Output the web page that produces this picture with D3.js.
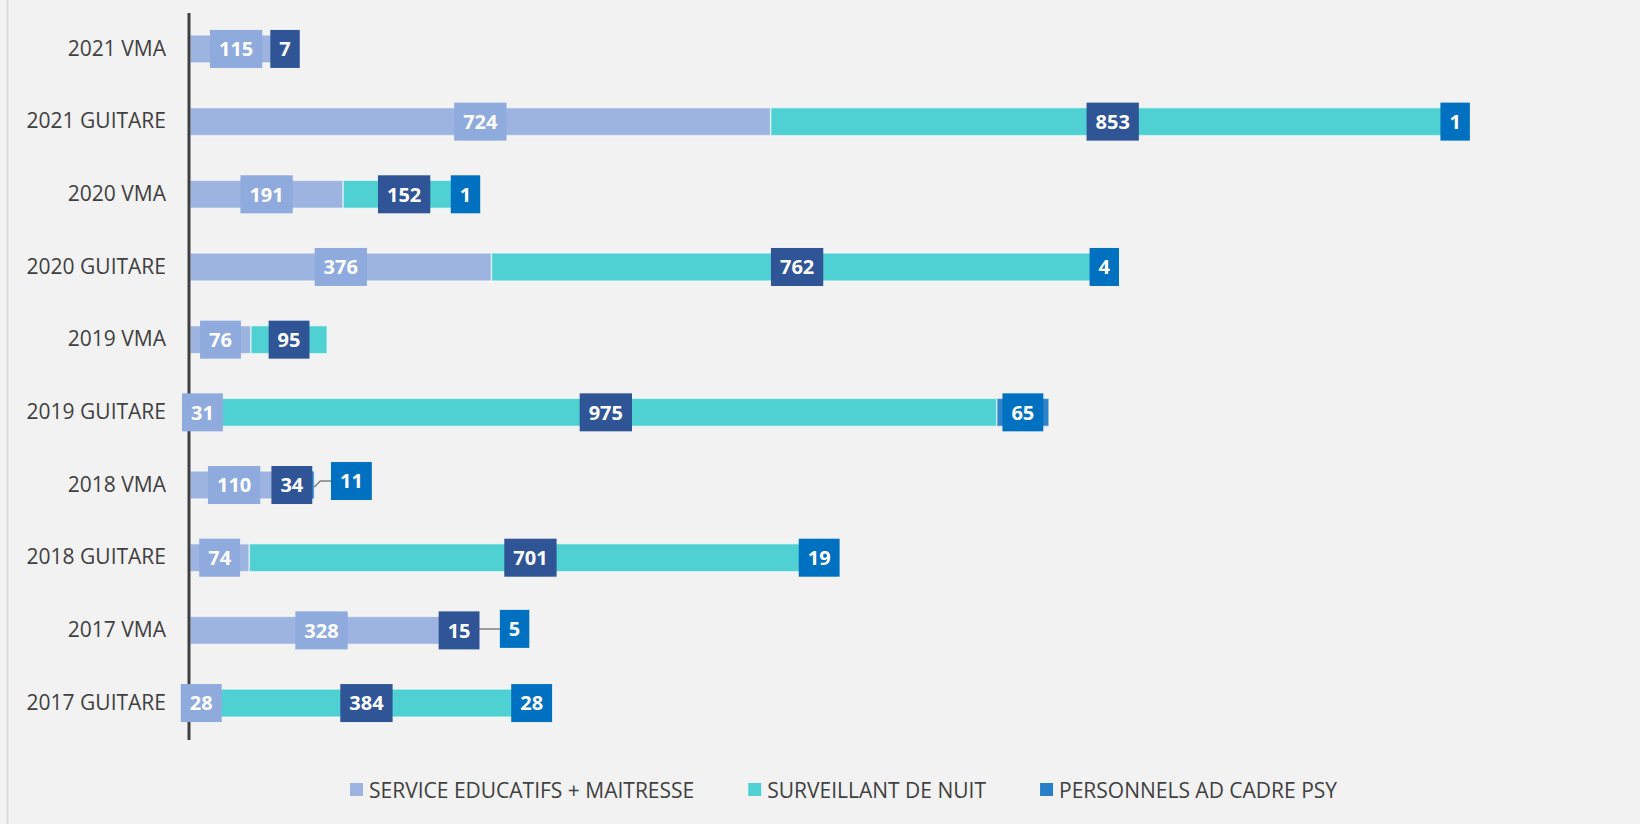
<!DOCTYPE html>
<html>
<head>
<meta charset="utf-8">
<script src="https://cdn.jsdelivr.net/npm/d3@7"></script>
<style>
  html, body { margin: 0; padding: 0; background: #F2F2F2; }
  svg { display: block; }
</style>
</head>
<body>
<svg id="chart" width="1640" height="824"></svg>
<script>
// ---- data ----
const categories = ["2021 VMA", "2021 GUITARE", "2020 VMA", "2020 GUITARE", "2019 VMA",
                    "2019 GUITARE", "2018 VMA", "2018 GUITARE", "2017 VMA", "2017 GUITARE"];
const seriesNames = ["SERVICE EDUCATIFS + MAITRESSE", "SURVEILLANT DE NUIT", "PERSONNELS AD CADRE PSY"];
const service     = [115, 724, 191, 376, 76, 31, 110, 74, 328, 28];
const surveillant = [7, 853, 152, 762, 95, 975, 34, 701, 15, 384];
const personnels  = [null, 1, 1, 4, null, 65, 11, 19, 5, 28];

// ---- styles ----
const barColors   = ["#9EB4E0", "#4FD1D3", "#2E83CA"];
const labelColors = ["#8FAADC", "#2F5597", "#0070C0"];
const legendColors = ["#9EB4E0", "#4FD1D3", "#2A80C8"];
const font = "'Open Sans', 'Noto Sans', sans-serif";

const svg = d3.select("#chart");
const W = 1640, H = 824;

svg.append("rect").attr("width", W).attr("height", H).attr("fill", "#F2F2F2");
svg.append("line").attr("x1", 7.5).attr("x2", 7.5).attr("y1", 0).attr("y2", H)
  .attr("stroke", "#D9D9D9").attr("stroke-width", 2);

const x = d3.scaleLinear().domain([0, 1750]).range([190, 190 + 1750 * 0.802]);
const y = d3.scaleBand().domain(categories).range([12.6, 739.4])
  .paddingInner(0.615).paddingOuter(0.3075);

const seriesVals = [service, surveillant, personnels];
const rows = categories.map((c, i) => {
  let cum = 0;
  const segs = seriesVals.map((arr, s) => {
    const v = arr[i];
    const seg = { cat: c, s, v, x0: cum, x1: cum + (v || 0) };
    cum += (v || 0);
    return seg;
  });
  return segs;
});
const segments = rows.flat().filter(d => d.v != null && d.v > 0);

// bars
svg.append("g").selectAll("rect").data(segments).join("rect")
  .attr("x", d => x(d.x0))
  .attr("y", d => y(d.cat))
  .attr("width", d => x(d.x1) - x(d.x0))
  .attr("height", y.bandwidth())
  .attr("fill", d => barColors[d.s])
  .attr("stroke", "#ffffff").attr("stroke-opacity", 0.55).attr("stroke-width", 1.5);

// axis
const axisG = svg.append("g").attr("transform", "translate(188.5,0)")
  .call(d3.axisLeft(y).tickSize(0).tickSizeOuter(0).tickPadding(22.5));
axisG.select(".domain").attr("stroke", "#404040").attr("stroke-width", 3);
axisG.selectAll("text").attr("font-family", font).attr("font-size", 21)
  .attr("fill", "#404040");

// data labels (label nudges for crowded labels)
const nudges = { "2018 VMA|2": { dx: 41.5, dy: -4 }, "2017 VMA|2": { dx: 47.5, dy: -1.5 } };
const labG = svg.append("g");
segments.forEach(d => {
  const key = d.cat + "|" + d.s;
  const nd = nudges[key] || { dx: 0, dy: 0 };
  const cx = (x(d.x0) + x(d.x1)) / 2 + nd.dx;
  const cy = y(d.cat) + y.bandwidth() / 2 + nd.dy;
  const g = labG.append("g");
  const t = g.append("text").attr("x", cx).attr("y", cy).attr("dy", "0.36em")
    .attr("text-anchor", "middle").attr("font-family", font).attr("font-weight", 700)
    .attr("font-size", 20).attr("fill", "#ffffff").text(d.v);
  const tw = t.node().getComputedTextLength();
  const bw = tw + 18, bh = 38;
  if (nudges[key]) {
    const ex = x(d.x1), ey = y(d.cat) + y.bandwidth() / 2;
    labG.insert("path", ":first-child")
      .attr("d", `M${ex},${ey + 2}L${ex + 6},${cy}L${cx - bw / 2},${cy}`)
      .attr("fill", "none").attr("stroke", "#808080").attr("stroke-width", 1.5);
  }
  g.insert("rect", "text").attr("x", cx - bw / 2).attr("y", cy - bh / 2)
    .attr("width", bw).attr("height", bh).attr("fill", labelColors[d.s]);
});

// legend
const legG = svg.append("g");
let lx = 350;
seriesNames.forEach((n, i) => {
  legG.append("rect").attr("x", lx).attr("y", 783).attr("width", 13).attr("height", 13)
    .attr("fill", legendColors[i]);
  const t = legG.append("text").attr("x", lx + 19).attr("y", 790).attr("dy", "0.36em")
    .attr("font-family", font).attr("font-size", 21).attr("fill", "#404040").text(n);
  lx += 19 + t.node().getComputedTextLength() + 54;
});
</script>
</body>
</html>
